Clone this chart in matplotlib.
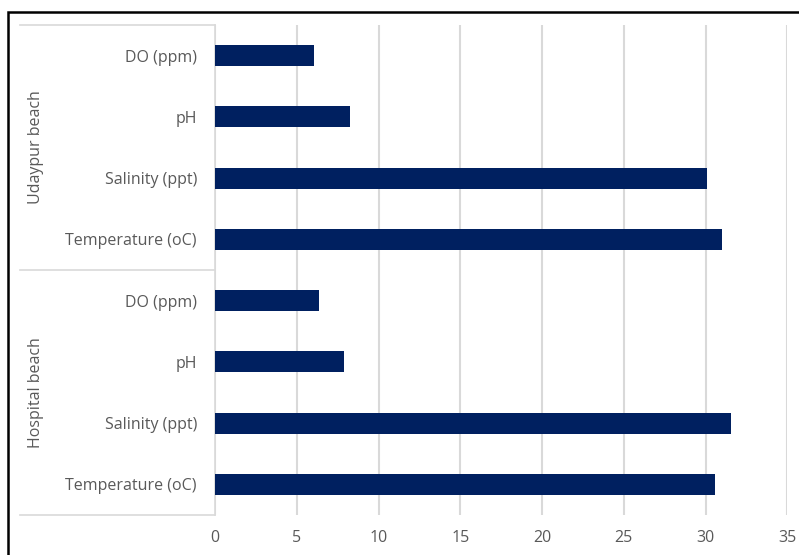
import matplotlib
matplotlib.use("Agg")
import matplotlib.pyplot as plt
from matplotlib.patches import Rectangle

# data
groups = ["Udaypur beach", "Hospital beach"]
params = ["DO (ppm)", "pH", "Salinity (ppt)", "Temperature (oC)"]
udaypur = [6.05, 8.25, 30.1, 31.0]
hospital = [6.35, 7.9, 31.55, 30.6]
xticks = [0, 5, 10, 15, 20, 25, 30, 35]

plt.rcParams['font.family'] = ['Open Sans', 'DejaVu Sans']
grey_txt = '#595959'
grid_col = '#d9d9d9'
bar_col = '#002060'

W, H = 799, 555
fig = plt.figure(figsize=(W / 100, H / 100), dpi=100)
ax = fig.add_axes([215 / W, 1 - 515 / H, (787.3 - 215) / W, (515 - 25) / H])

values = udaypur + hospital
labels = params + params
ypos = list(range(len(values)))
ax.barh(ypos, values, height=0.34, color=bar_col, zorder=3)

ax.set_xlim(0, 35)
ax.set_ylim(len(values) - 0.5, -0.5)
ax.set_xticks(xticks)
ax.set_yticks(ypos)
ax.set_yticklabels(labels)
ax.tick_params(axis='both', length=0, colors=grey_txt, labelsize=11.5)
ax.tick_params(axis='y', pad=13)
ax.tick_params(axis='x', pad=11)
ax.grid(axis='x', color=grid_col, linewidth=1.5, zorder=0)
for s in ['top', 'right', 'bottom']:
    ax.spines[s].set_visible(False)
ax.spines['left'].set_color(grid_col)
ax.spines['left'].set_linewidth(1.2)

# group separators and group labels
tr = ax.get_yaxis_transform()
left_x = (20 - 215) / (787.3 - 215)
n = len(params)
for k in range(len(groups) + 1):
    yb = k * n - 0.5
    ax.plot([left_x, 0], [yb, yb], transform=tr, color=grid_col, lw=1.2, clip_on=False)
label_x = (36 - 215) / (787.3 - 215)
for k, g in enumerate(groups):
    ax.text(label_x, k * n + (n - 1) / 2, g, transform=tr, rotation=90,
            ha='center', va='center', color=grey_txt, fontsize=11.5)

# outer black frame (runs off the right and bottom edges)
fig.patches.append(Rectangle((8 / W, -0.1), 1.2, 1 - 12 / H + 0.1, transform=fig.transFigure,
                             fill=False, edgecolor='black', linewidth=1.8))

fig.savefig("out.png", dpi=100)
